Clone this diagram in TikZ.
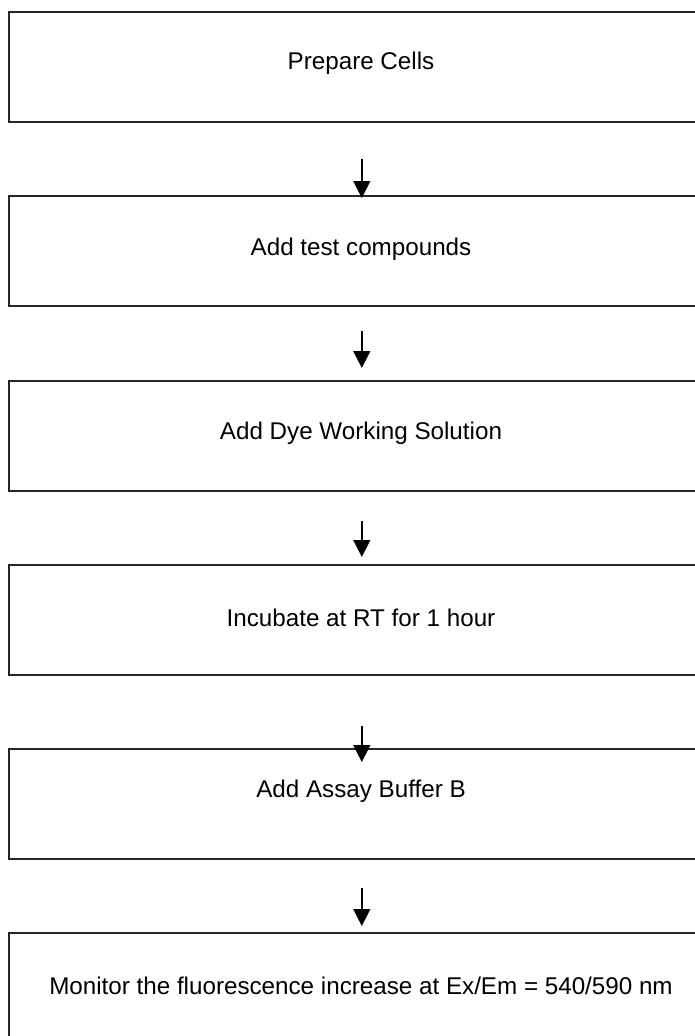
\documentclass[tikz,border=0pt]{standalone}
\usepackage{fontspec}
\setmainfont{Liberation Sans}
\usetikzlibrary{arrows.meta}
\begin{document}
\begin{tikzpicture}[x=1pt,y=-1pt,
  stepbox/.style={draw=black!85, line width=1.6pt, minimum width=706pt, minimum height=110pt, inner sep=0pt, anchor=north west},
  flow/.style={-{Triangle[length=17pt,width=17pt]}, line width=1.4pt},
  lbl/.style={font=\fontsize{24.2}{28}\selectfont, inner sep=0pt}]
\useasboundingbox (0,0) rectangle (695,1036);
\clip (0,0) rectangle (695,1036);
\node[stepbox] (b1) at (8,11) {};
\node[stepbox] (b2) at (8,195) {};
\node[stepbox] (b3) at (8,380) {};
\node[stepbox] (b4) at (8,564) {};
\node[stepbox] (b5) at (8,748) {};
\node[stepbox] (b6) at (8,932) {};
\node[lbl] (t1) at (361,63) {Prepare Cells};
\node[lbl] (t2) at (361,249) {Add test compounds};
\node[lbl] (t3) at (361,433) {Add Dye Working Solution};
\node[lbl] (t4) at (361,618) {Incubate at RT for 1 hour};
\node[lbl] (t5) at (361,791) {Add Assay Buffer B};
\node[lbl] (t6) at (361,986) {Monitor the fluorescence increase at Ex/Em = 540/590 nm};
\draw[flow, shorten <=36pt, shorten >=-3pt] (b1.south) -- (b2.north);
\draw[flow, shorten <=24pt, shorten >=12pt] (b2.south) -- (b3.north);
\draw[flow, shorten <=29pt, shorten >=7pt] (b3.south) -- (b4.north);
\draw[flow, shorten <=50pt, shorten >=-14pt] (b4.south) -- (b5.north);
\draw[flow, shorten <=28pt, shorten >=6pt] (b5.south) -- (b6.north);
\end{tikzpicture}
\end{document}
